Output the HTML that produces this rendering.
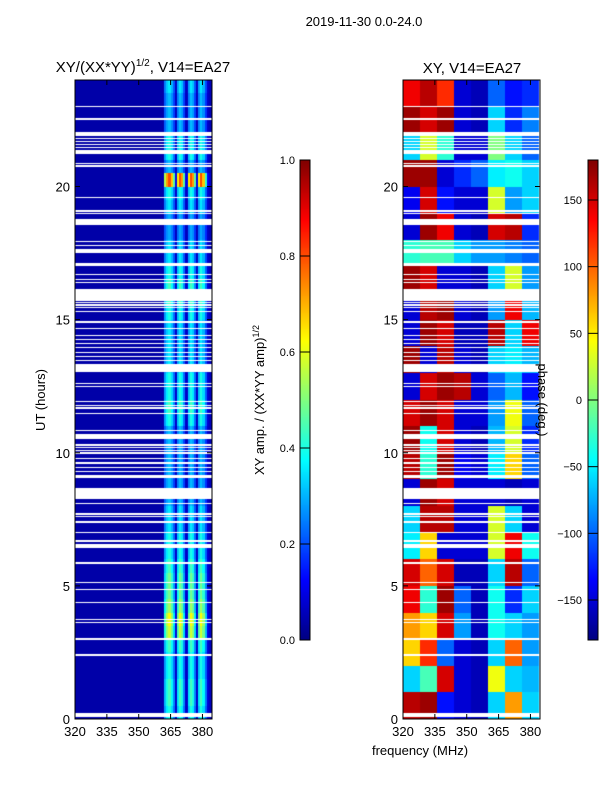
<!DOCTYPE html>
<html><head><meta charset="utf-8"><style>
body{margin:0;background:#fff;width:600px;height:800px;position:relative;overflow:hidden;font-family:"Liberation Sans",sans-serif;}
canvas{position:absolute;}
svg{position:absolute;left:0;top:0;}
</style></head><body>
<canvas id="amp" width="137" height="639" style="left:75px;top:80px"></canvas>
<canvas id="phs" width="137" height="639" style="left:403px;top:80px"></canvas>
<canvas id="cb1" width="10" height="480" style="left:300px;top:160px"></canvas>
<canvas id="cb2" width="10" height="480" style="left:588px;top:160px"></canvas>
<svg id="ov" width="600" height="800"></svg>
<script>
// ---- data ----
const freqMin = 320, freqMax = 384.5;
const hourMin = 0, hourMax = 24;
const xTicks = [320, 335, 350, 365, 380];
const yTicks = [0, 5, 10, 15, 20];
const cb1Ticks = [0.0, 0.2, 0.4, 0.6, 0.8, 1.0];
const cb2Ticks = [-150, -100, -50, 0, 50, 100, 150];
// high-band amplitude level per half hour (0..24h)
const rowLevel = [0.4,0.45,0.45,0.4,0.4,0.45,0.6,0.65,0.55,0.5,0.5,0.45,0.4,0.4,0.35,0.35,0.3,0.3,0.3,0.3,0.3,0.3,0.4,0.45,0.4,0.4,0.35,0.35,0.35,0.35,0.4,0.45,0.45,0.4,0.35,0.35,0.28,0.28,0.35,0.4,0.85,0.3,0.4,0.4,0.3,0.3,0.3,0.35];
// per-MHz spectral profile of the bright band (362..383)
const bandStart = 362;
const bandProfile = [0.6,0.8,0.9,0.75,0.5,0.08,0.7,0.9,0.8,0.5,0.08,0.7,0.9,0.8,0.5,0.08,0.7,0.9,0.75,0.45,0.1,0.04];
const lowAmp = 0.04;
// flagged (blank) intervals [start, end] in hours
const flagged = [[0.08,0.22],[2.38,2.44],[2.98,3.03],[3.62,3.66],[3.7,3.74],[4.34,4.38],[4.83,4.88],[5.09,5.13],[5.84,5.88],[6.44,6.56],[6.63,6.67],[6.7,6.74],[6.97,7.01],[7.38,7.42],[7.6,7.64],[7.68,7.72],[8.09,8.13],[8.26,8.68],[9.07,9.11],[9.14,9.18],[9.26,9.3],[9.41,9.45],[9.56,9.6],[9.63,9.67],[9.78,9.82],[9.97,10.01],[10.08,10.12],[10.18,10.22],[10.27,10.31],[10.52,10.7],[10.8,10.84],[11.47,11.51],[11.66,11.7],[11.74,11.78],[11.92,11.96],[12.48,12.52],[12.58,12.62],[13.03,13.33],[13.46,13.5],[13.61,13.65],[13.76,13.8],[13.95,13.99],[14.1,14.14],[14.25,14.29],[14.37,14.41],[14.63,14.67],[14.89,14.93],[15.27,15.31],[15.42,15.46],[15.53,15.57],[15.64,15.68],[15.7,16.15],[16.36,16.4],[16.47,16.51],[16.66,16.7],[17.0,17.13],[17.5,17.65],[17.75,17.79],[17.9,17.94],[18.55,18.78],[18.98,19.02],[19.06,19.1],[19.55,19.59],[20.75,20.79],[20.86,20.9],[21.22,21.37],[21.46,21.5],[21.54,21.58],[21.68,21.72],[21.8,21.84],[21.9,22.05],[22.48,22.52],[22.55,22.59],[22.97,23.01]];
// phase (deg) per hour row (0..24) x 8 frequency segments of 8 MHz
const phaseGrid = [
[160,170,-130,-150,-160,-60,80,-60],
[-60,-20,150,-150,-160,40,-60,-70],
[60,120,-100,-150,-160,-60,100,-80],
[80,60,150,-80,-160,-40,-60,-80],
[140,-30,170,-100,-160,-40,-120,-60],
[150,100,150,-160,-160,-60,160,-100],
[-50,60,-150,-150,-150,30,140,-40],
[-60,160,160,-150,-150,30,-60,-150],
[-150,170,150,-150,-150,-150,-160,-150],
[160,-30,170,-140,-150,-50,60,-100],
[170,-40,150,-150,-160,-70,30,-120],
[150,170,150,-150,-150,-80,40,-100],
[-150,150,170,160,-150,-100,-70,-130],
[170,-150,160,-150,-160,-60,-50,-70],
[-150,170,150,-160,-160,160,-60,140],
[-150,160,170,-150,-160,-80,140,-70],
[170,150,-150,-150,-160,-60,30,-80],
[-30,-20,-20,-60,-80,-80,-90,-100],
[-150,170,140,-150,-160,150,160,-120],
[-140,150,-130,-150,-150,30,-80,-60],
[170,170,-150,-120,-100,-50,-40,-60],
[-60,30,-30,-150,-150,0,-60,-100],
[170,150,170,-150,-160,-60,-120,-90],
[140,160,120,-150,-160,-100,-130,-120]];

// ---- helpers ----
function jet(v){v=Math.max(0,Math.min(1,v));
 const r=Math.max(0,Math.min(1,1.5-Math.abs(4*v-3))),g=Math.max(0,Math.min(1,1.5-Math.abs(4*v-2))),b=Math.max(0,Math.min(1,1.5-Math.abs(4*v-1)));
 return `rgb(${Math.round(r*255)},${Math.round(g*255)},${Math.round(b*255)})`;}
const W=137,H=639;
const xs=f=>(f-freqMin)/(freqMax-freqMin)*W;
const ys=h=>H-(h-hourMin)/(hourMax-hourMin)*H;
const hAt=py=>hourMax-(py/H)*(hourMax-hourMin);
function flagRow(py){const h1=hAt(py+1),h0=hAt(py);const hm=(h0+h1)/2;
 return flagged.some(r=>(hm>=r[0]&&hm<r[1])||(r[0]>=h1&&r[1]<=h0));}
// amplitude
const a=document.getElementById('amp').getContext('2d');
for(let py=0;py<H;py++){
 if(flagRow(py))continue;
 const h=hAt(py+0.5);
 const lv=rowLevel[Math.max(0,Math.min(47,Math.floor(h*2)))];
 for(let f=320;f<385;f++){
  const i=f-bandStart;
  const v=(i>=0&&i<bandProfile.length)?lowAmp+bandProfile[i]*lv:lowAmp;
  a.fillStyle=jet(v);
  const x0=Math.round(xs(f)),x1=Math.round(xs(f+1));
  a.fillRect(x0,py,x1-x0,1);
 }
}
// phase
const p=document.getElementById('phs').getContext('2d');
for(let py=0;py<H;py++){
 if(flagRow(py))continue;
 const h=hAt(py+0.5);
 const row=phaseGrid[Math.max(0,Math.min(23,Math.floor(h)))];
 for(let s=0;s<8;s++){
  p.fillStyle=jet((row[s]+180)/360);
  const x0=Math.round(xs(320+s*8)),x1=Math.round(xs(328+s*8));
  p.fillRect(x0,py,x1-x0,1);
 }
}
// colorbars
['cb1','cb2'].forEach(id=>{const c=document.getElementById(id).getContext('2d');
 for(let y=0;y<480;y++){c.fillStyle=jet(1-y/480);c.fillRect(0,y,10,1);}});

// ---- overlay svg ----
const NS='http://www.w3.org/2000/svg',ov=document.getElementById('ov');
function el(t,attrs,txt){const e=document.createElementNS(NS,t);for(const k in attrs)e.setAttribute(k,attrs[k]);if(txt!==undefined)e.textContent=txt;ov.appendChild(e);return e;}
[[75,'amp'],[403,'phs']].forEach(([x0,nm])=>{
 const fr=el('rect',{x:x0,y:80,width:W,height:H,fill:'none',stroke:'#000','stroke-width':1});
 
 xTicks.forEach(t=>{const x=x0+xs(t);
  el('line',{x1:x,x2:x,y1:719,y2:714,stroke:'#000'});el('line',{x1:x,x2:x,y1:80,y2:85,stroke:'#000'});
  const tl=el('text',{x:x,y:736,'font-size':13,'text-anchor':'middle'},t);
  });
 yTicks.forEach(t=>{const y=80+ys(t);
  el('line',{x1:x0,x2:x0+5,y1:y,y2:y,stroke:'#000'});el('line',{x1:x0+W,x2:x0+W-5,y1:y,y2:y,stroke:'#000'});
  const tl=el('text',{x:x0-5,y:y+5,'font-size':13,'text-anchor':'end'},t);
  });
});
el('rect',{x:300,y:160,width:10,height:480,fill:'none',stroke:'#000'});
el('rect',{x:588,y:160,width:10,height:480,fill:'none',stroke:'#000'});
cb1Ticks.forEach(t=>{const y=640-t*480;el('line',{x1:300,x2:310,y1:y,y2:y,stroke:'#000'});
 const tl=el('text',{x:295,y:y+4,'font-size':11,'text-anchor':'end'},t.toFixed(1));
 });
cb2Ticks.forEach(t=>{const y=640-(t+180)/360*480;el('line',{x1:588,x2:598,y1:y,y2:y,stroke:'#000'});
 const tl=el('text',{x:582,y:y+4,'font-size':11,'text-anchor':'end'},t<0?'\u2212'+(-t):t);
 });
</script>
<svg width="600" height="800" style="pointer-events:none">
<text x="364" y="26" font-size="13" text-anchor="middle">2019-11-30 0.0-24.0</text>
<text x="143" y="72" font-size="15" text-anchor="middle">XY/(XX*YY)<tspan font-size="10" dy="-6">1/2</tspan><tspan dy="6">, V14=EA27</tspan></text>
<text x="472" y="73" font-size="15" text-anchor="middle">XY, V14=EA27</text>
<text transform="translate(45,400) rotate(-90)" font-size="13" text-anchor="middle">UT (hours)</text>
<text x="420" y="755" font-size="13" text-anchor="middle">frequency (MHz)</text>
<text transform="translate(264,400) rotate(-90)" font-size="13" text-anchor="middle">XY amp. / (XX*YY amp)<tspan font-size="9" dy="-5">1/2</tspan></text>
<text transform="translate(538,400) rotate(90)" font-size="13" text-anchor="middle">phase (deg.)</text>
</svg>
</body></html>
